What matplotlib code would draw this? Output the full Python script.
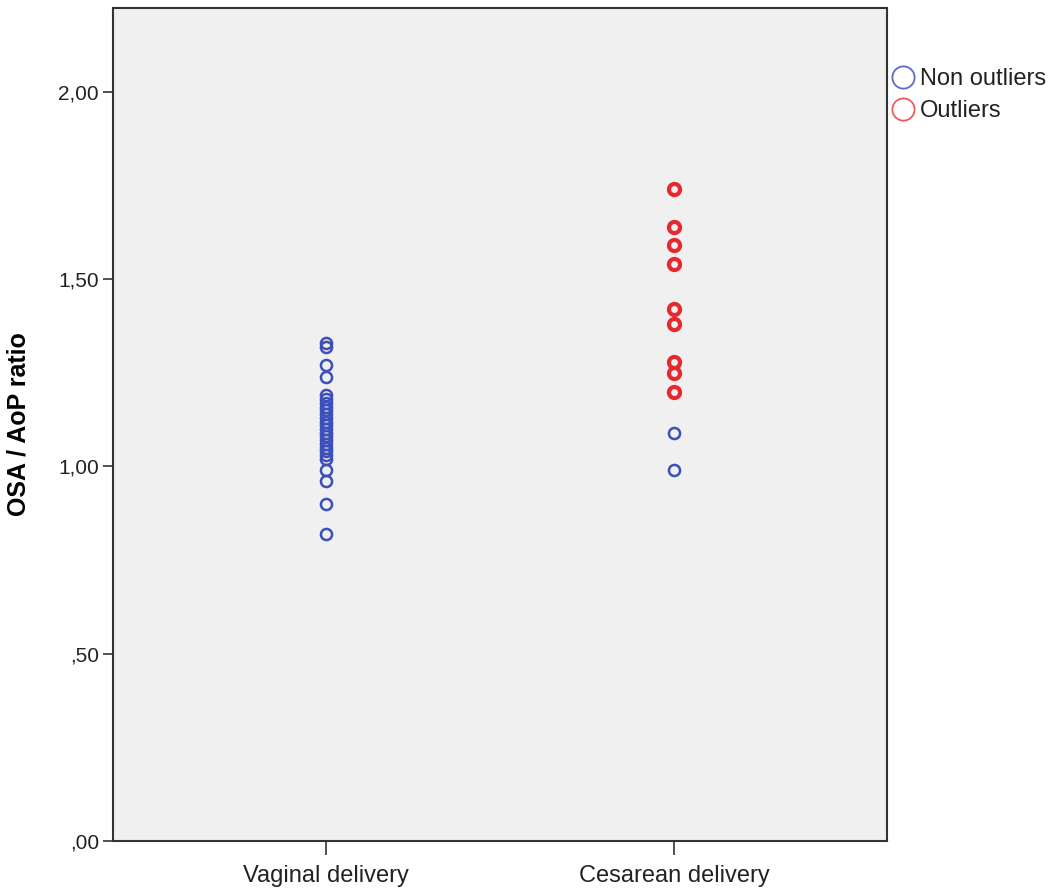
import numpy as np
import matplotlib.pyplot as plt
from matplotlib.lines import Line2D

plt.rcParams['font.family'] = ['Liberation Sans', 'DejaVu Sans']

# Data
groups = ['Vaginal delivery', 'Cesarean delivery']
vaginal = [1.33, 1.32, 1.27, 1.24, 1.19, 1.18, 1.17, 1.16, 1.15, 1.14, 1.13,
           1.12, 1.11, 1.10, 1.09, 1.08, 1.07, 1.06, 1.05, 1.04, 1.03, 1.02,
           0.99, 0.96, 0.90, 0.82]
cesarean_non = [1.09, 0.99]
cesarean_out = [1.74, 1.64, 1.59, 1.54, 1.42, 1.38, 1.28, 1.25, 1.20]
yticks = [0.0, 0.5, 1.0, 1.5, 2.0]
ytick_labels = [',00', ',50', '1,00', '1,50', '2,00']

blue = '#3d4fb8'
red = '#e8272f'

fig = plt.figure(figsize=(10.57, 8.93), dpi=100)
ax = fig.add_axes([113 / 1057, 1 - 841 / 893, 774 / 1057, 833 / 893])
ax.set_facecolor('#f0f0f0')

ms = 8
ax.plot([1] * len(vaginal), vaginal, 'o', ms=ms, mfc='none', mec=blue, mew=1.8)
ax.plot([2] * len(cesarean_non), cesarean_non, 'o', ms=ms, mfc='none', mec=blue, mew=1.8)
ax.plot([2] * len(cesarean_out), cesarean_out, 'o', ms=ms, mfc='none', mec=red, mew=3.0)

ax.set_xlim(0.389, 2.611)
ax.set_ylim(0, 2.224)
ax.set_xticks([1, 2])
ax.set_xticklabels(groups, fontsize=17, color='#222222')
ax.set_yticks(yticks)
ax.set_yticklabels(ytick_labels, fontsize=15, color='#222222')
ax.tick_params(axis='x', length=10, width=1.2, color='#333333', pad=7)
ax.tick_params(axis='y', length=7, width=1.2, color='#333333', pad=3)
for s in ax.spines.values():
    s.set_color('#333333')
    s.set_linewidth(1.5)

ax.set_ylabel('OSA / AoP ratio', fontsize=18, fontweight='bold')
ax.yaxis.set_label_coords(-0.107, 0.5)

handles = [Line2D([], [], ls='none', marker='o', ms=16, mfc='none', mec='#5a6cc8', mew=1.3),
           Line2D([], [], ls='none', marker='o', ms=16, mfc='none', mec='#ee5a5f', mew=1.3)]
fig.legend(handles, ['Non outliers', 'Outliers'], loc='upper left',
           bbox_to_anchor=(875 / 1057, 1 - 56 / 893), frameon=False,
           fontsize=17, handletextpad=0.0, labelspacing=0.45, borderpad=0,
           handlelength=1.4, labelcolor='#222222')

fig.savefig('out.png', dpi=100)
